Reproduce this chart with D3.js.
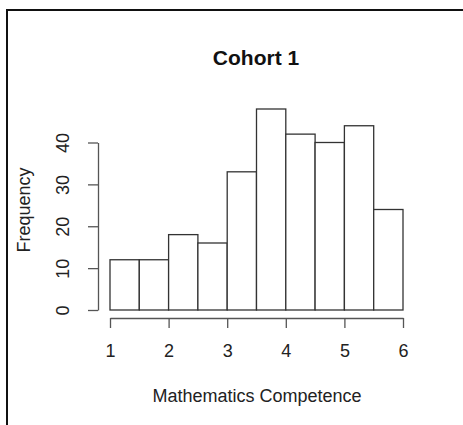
<!DOCTYPE html>
<html>
<head>
<meta charset="utf-8">
<script src="https://cdn.jsdelivr.net/npm/d3@7"></script>
<style>
  html, body { margin: 0; padding: 0; background: #fff; overflow: hidden; }
  svg { display: block; font-family: "Liberation Sans", Arial, sans-serif; }
</style>
</head>
<body>
<svg id="chart" width="463" height="425"></svg>
<script>
// Histogram bins (lower edges, width 0.5) and their counts
const binStarts = [1, 1.5, 2, 2.5, 3, 3.5, 4, 4.5, 5, 5.5];
const binWidth = 0.5;
const counts = [12, 12, 18, 16, 33, 48, 42, 40, 44, 24];
const xTicks = [1, 2, 3, 4, 5, 6];
const yTicks = [0, 10, 20, 30, 40];
const title = "Cohort 1";
const xLabel = "Mathematics Competence";
const yLabel = "Frequency";

const svg = d3.select("#chart");

// Frame: only the top and left edges lie inside the view
const frame = d3.path();
frame.moveTo(7, 425);
frame.lineTo(7, 10);
frame.lineTo(463, 10);
svg.append("path")
  .attr("d", frame.toString())
  .attr("fill", "none").attr("stroke", "#111").attr("stroke-width", 2);

const x = d3.scaleLinear().domain([1, 6]).range([110, 403]);
const y = d3.scaleLinear().domain([0, 40]).range([310, 142.5]);

// Bars
svg.append("g").selectAll("rect")
  .data(binStarts)
  .join("rect")
  .attr("x", d => x(d))
  .attr("y", (d, i) => y(counts[i]))
  .attr("width", d => x(d + binWidth) - x(d))
  .attr("height", (d, i) => y(0) - y(counts[i]))
  .attr("fill", "#fff")
  .attr("stroke", "#333")
  .attr("stroke-width", 1.3);

// X axis, offset below the bars
const xAxis = svg.append("g")
  .attr("transform", "translate(0,318)")
  .call(d3.axisBottom(x).tickValues(xTicks).tickFormat(d3.format("d"))
    .tickSize(10).tickPadding(16).tickSizeOuter(0));
xAxis.select(".domain").attr("stroke", "#555").attr("stroke-width", 1.3);
xAxis.selectAll(".tick line").attr("stroke", "#555").attr("stroke-width", 1.3);
xAxis.selectAll(".tick text")
  .attr("font-size", 18).attr("fill", "#222")
  .attr("font-family", "Liberation Sans, Arial, sans-serif");

// Y axis, offset left of the bars, labels rotated
const yAxis = svg.append("g")
  .attr("transform", "translate(98,0)")
  .call(d3.axisLeft(y).tickValues(yTicks).tickFormat(d3.format("d"))
    .tickSize(10).tickSizeOuter(0));
yAxis.select(".domain").attr("stroke", "#555").attr("stroke-width", 1.3);
yAxis.selectAll(".tick line").attr("stroke", "#555").attr("stroke-width", 1.3);
yAxis.selectAll(".tick text")
  .attr("font-size", 18).attr("fill", "#222")
  .attr("font-family", "Liberation Sans, Arial, sans-serif")
  .attr("x", null).attr("dy", null)
  .attr("text-anchor", "middle")
  .attr("dominant-baseline", "central")
  .attr("transform", "translate(-35,0) rotate(-90)");

// Title
svg.append("text")
  .attr("x", 256).attr("y", 65)
  .attr("text-anchor", "middle")
  .attr("font-size", 21).attr("font-weight", "bold").attr("fill", "#111")
  .text(title);

// Axis titles
svg.append("text")
  .attr("x", 257).attr("y", 402)
  .attr("text-anchor", "middle")
  .attr("font-size", 18).attr("fill", "#222")
  .text(xLabel);

svg.append("text")
  .attr("transform", "translate(30,210) rotate(-90)")
  .attr("text-anchor", "middle")
  .attr("font-size", 18).attr("fill", "#222")
  .text(yLabel);
</script>
</body>
</html>
